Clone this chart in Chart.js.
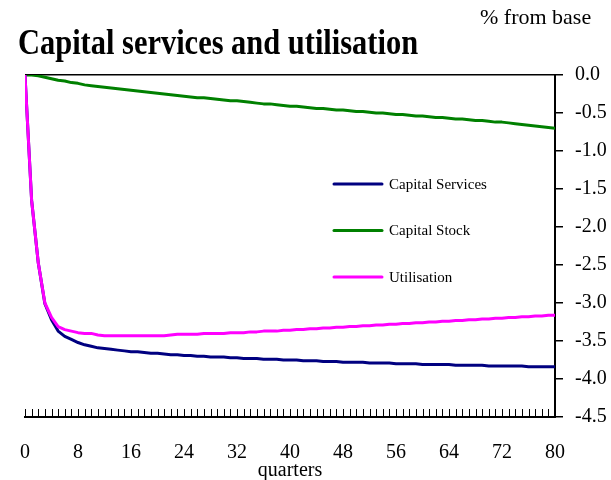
<!DOCTYPE html>
<html><head><meta charset="utf-8">
<script src="https://cdn.jsdelivr.net/npm/chart.js@4"></script>
<style>
html,body{margin:0;padding:0;background:#fff;}
#wrap{position:relative;width:611px;height:480px;overflow:hidden;}
canvas{position:absolute;left:0;top:0;}
#title{position:absolute;left:18px;top:25px;font-family:"Liberation Serif";font-weight:bold;font-size:35px;line-height:35px;transform:scaleX(0.87);transform-origin:0 0;white-space:nowrap;color:#000;}
#unit{position:absolute;left:480px;top:6px;font-family:"Liberation Serif";font-size:22px;line-height:22px;white-space:nowrap;color:#000;}
</style></head><body>
<div id="wrap"><canvas id="c" width="611" height="480"></canvas>
<div id="title">Capital services and utilisation</div><div id="unit">% from base</div></div>
<script>
const quarters = [0,1,2,3,4,5,6,7,8,9,10,11,12,13,14,15,16,17,18,19,20,21,22,23,24,25,26,27,28,29,30,31,32,33,34,35,36,37,38,39,40,41,42,43,44,45,46,47,48,49,50,51,52,53,54,55,56,57,58,59,60,61,62,63,64,65,66,67,68,69,70,71,72,73,74,75,76,77,78,79,80];
const xTickLabels = [0,8,16,24,32,40,48,56,64,72,80];
const yTickLabels = [0,-0.5,-1,-1.5,-2,-2.5,-3,-3.5,-4,-4.5];
const seriesNames = ['Capital Services','Capital Stock','Utilisation'];

const capitalServices = [0,-1.65,-2.47,-3.01,-3.22,-3.37,-3.44,-3.48,-3.52,-3.55,
 -3.57,-3.59,-3.60,-3.61,-3.62,-3.63,-3.64,-3.64,-3.65,-3.66,
 -3.66,-3.67,-3.68,-3.68,-3.69,-3.69,-3.70,-3.70,-3.71,-3.71,
 -3.71,-3.72,-3.72,-3.73,-3.73,-3.73,-3.74,-3.74,-3.74,-3.75,
 -3.75,-3.75,-3.76,-3.76,-3.76,-3.77,-3.77,-3.77,-3.78,-3.78,
 -3.78,-3.78,-3.79,-3.79,-3.79,-3.79,-3.80,-3.80,-3.80,-3.80,
 -3.81,-3.81,-3.81,-3.81,-3.81,-3.82,-3.82,-3.82,-3.82,-3.82,
 -3.83,-3.83,-3.83,-3.83,-3.83,-3.83,-3.84,-3.84,-3.84,-3.84,
 -3.84];
const capitalStock = [0,0,-0.01,-0.03,-0.05,-0.07,-0.08,-0.10,-0.11,-0.13,
 -0.14,-0.15,-0.16,-0.17,-0.18,-0.19,-0.20,-0.21,-0.22,-0.23,
 -0.24,-0.25,-0.26,-0.27,-0.28,-0.29,-0.30,-0.30,-0.31,-0.32,
 -0.33,-0.34,-0.34,-0.35,-0.36,-0.37,-0.38,-0.38,-0.39,-0.40,
 -0.41,-0.41,-0.42,-0.43,-0.44,-0.44,-0.45,-0.46,-0.46,-0.47,
 -0.48,-0.48,-0.49,-0.50,-0.50,-0.51,-0.52,-0.52,-0.53,-0.54,
 -0.54,-0.55,-0.56,-0.56,-0.57,-0.58,-0.58,-0.59,-0.60,-0.60,
 -0.61,-0.62,-0.62,-0.63,-0.64,-0.65,-0.66,-0.67,-0.68,-0.69,
 -0.70];
const utilisation = [0,-1.65,-2.47,-3.00,-3.19,-3.31,-3.35,-3.37,-3.39,-3.40,
 -3.40,-3.42,-3.43,-3.43,-3.43,-3.43,-3.43,-3.43,-3.43,-3.43,
 -3.43,-3.43,-3.42,-3.41,-3.41,-3.41,-3.41,-3.40,-3.40,-3.40,
 -3.40,-3.39,-3.39,-3.39,-3.38,-3.38,-3.37,-3.37,-3.37,-3.36,
 -3.36,-3.35,-3.35,-3.34,-3.34,-3.33,-3.33,-3.32,-3.32,-3.31,
 -3.31,-3.30,-3.30,-3.29,-3.29,-3.28,-3.28,-3.27,-3.27,-3.26,
 -3.26,-3.25,-3.25,-3.24,-3.24,-3.23,-3.23,-3.22,-3.22,-3.21,
 -3.21,-3.20,-3.20,-3.19,-3.19,-3.18,-3.18,-3.17,-3.17,-3.16,
 -3.16];

const innerTicks = {
  id: 'innerTicks',
  afterDraw(chart) {
    const s = chart.scales.x, ctx = chart.ctx, b = chart.chartArea.bottom;
    ctx.save();
    ctx.strokeStyle = '#000';
    ctx.lineWidth = 1;
    s.ticks.forEach((t, i) => {
      const x = Math.round(s.getPixelForTick(i)) + 0.5;
      ctx.beginPath(); ctx.moveTo(x, b); ctx.lineTo(x, b - 8); ctx.stroke();
    });
    ctx.restore();
  }
};

const legendBox = {
  id: 'legendBox',
  afterDatasetsDraw(chart) {
    const ctx = chart.ctx;
    ctx.save();
    chart.data.datasets.forEach((ds, i) => {
      const y = 184 + i * 46.5;
      ctx.strokeStyle = ds.borderColor;
      ctx.lineWidth = 3;
      ctx.lineCap = 'round';
      ctx.beginPath(); ctx.moveTo(334, y); ctx.lineTo(382, y); ctx.stroke();
      ctx.fillStyle = '#000';
      ctx.font = '15px "Liberation Serif"';
      ctx.textBaseline = 'middle';
      ctx.textAlign = 'left';
      ctx.fillText(ds.label, 389, y + 1);
    });
    ctx.restore();
  }
};

const tickFont = {family: 'Liberation Serif', size: 20};

new Chart(document.getElementById('c'), {
  type: 'line',
  data: {
    labels: quarters,
    datasets: [
      {label: seriesNames[0], data: capitalServices, borderColor: '#000080', backgroundColor: '#000080', order: 1},
      {label: seriesNames[1], data: capitalStock, borderColor: '#008000', backgroundColor: '#008000', order: 2},
      {label: seriesNames[2], data: utilisation, borderColor: '#FF00FF', backgroundColor: '#FF00FF', order: 0}
    ]
  },
  options: {
    responsive: false,
    animation: false,
    layout: {padding: {top: 75, left: 25, right: 0, bottom: 0}},
    elements: {point: {radius: 0}, line: {borderWidth: 3, tension: 0, borderJoinStyle: 'round', borderCapStyle: 'round'}},
    plugins: {legend: {display: false}, tooltip: {enabled: false}, title: {display: false}},
    scales: {
      x: {
        type: 'linear', min: 0, max: 80, position: 'bottom',
        ticks: {stepSize: 1, autoSkip: false, maxRotation: 0, minRotation: 0, font: tickFont, color: '#000', padding: 24,
          callback: (v) => xTickLabels.includes(v) ? String(v) : ''},
        grid: {display: true, drawOnChartArea: false, drawTicks: false},
        border: {display: true, color: '#000', width: 2},
        title: {display: true, text: 'quarters', font: {family: 'Liberation Serif', size: 20, lineHeight: 1}, color: '#000', padding: {top: 0, bottom: -1}},
        afterFit: (s) => { s.height = 63; s.paddingLeft = 0; s.paddingRight = 0; }
      },
      y: {
        position: 'right', min: -4.5, max: 0,
        afterBuildTicks: (s) => { s.ticks = yTickLabels.map(v => ({value: v})); },
        ticks: {font: tickFont, color: '#000', padding: 12, callback: (v) => Number(v).toFixed(1)},
        grid: {drawOnChartArea: true, color: (c) => (c.tick && c.tick.value === 0) ? '#000' : 'rgba(0,0,0,0)', tickColor: '#000', tickLength: 8, lineWidth: 1.5},
        border: {display: true, color: '#000', width: 2},
        afterFit: (s) => { s.width = 56; }
      }
    }
  },
  plugins: [innerTicks, legendBox]
});
</script>
</body></html>
